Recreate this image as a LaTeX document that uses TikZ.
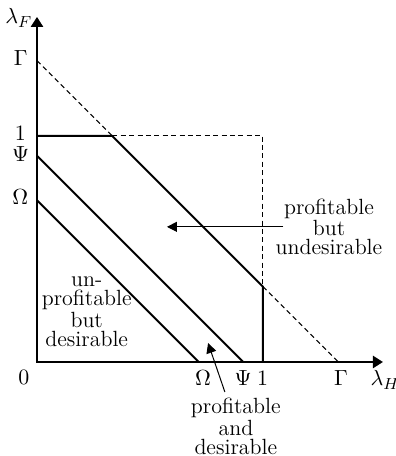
\documentclass[tikz,border=0pt]{standalone}
\usepackage{amsmath,amssymb}
\usepackage{xcolor}
\usepackage{tikz}
\usetikzlibrary{positioning,arrows.meta}
\tikzset{
  axis/.style={draw=black, line width=1.15pt, {Triangle[length=5pt,width=6pt]}-{Triangle[length=5pt,width=6pt]}},
  bound/.style={draw=black, line width=1pt, line join=miter},
  guide/.style={draw=black, line width=0.5pt, dash pattern=on 2.5pt off 1.7pt},
  pointer/.style={draw=black, line width=0.5pt, -{Triangle[length=5pt,width=5pt]}},
  region/.style={align=center, inner sep=0pt, font=\fontsize{11}{9.4}\selectfont},
  ticklbl/.style={inner sep=0pt, font=\fontsize{11}{13}\selectfont},
  regionplot/.style={x=113pt, y=113pt}
}

\begin{document}
\begin{tikzpicture}[regionplot]
        \useasboundingbox (-0.1637,-0.416) rectangle (1.5885,1.6018);
        % axis points
        \coordinate (O) at (0,0);
        \coordinate (xend) at (1.531,0);
        \coordinate (yend) at (0,1.527);
        \coordinate (yG) at (0,4/3); \coordinate (y1) at (0,1);
        \coordinate (yPsi) at (0,0.913); \coordinate (yOm) at (0,0.716);
        \coordinate (xG) at (4/3,0); \coordinate (x1) at (1,0);
        \coordinate (xPsi) at (0.913,0); \coordinate (xOm) at (0.716,0);
        \coordinate (c1) at (1/3,1); \coordinate (c2) at (1,1/3);
        \coordinate (c11) at (1,1);
        % guides
        \draw[guide] (yG)--(c1); \draw[guide] (c2)--(xG);
        \draw[guide] (c1)--(c11)--(c2);
        % boundaries
        \draw[bound] (yOm)--(xOm);
        \draw[bound] (yPsi)--(xPsi);
        \draw[bound] (y1)--(c1)--(c2)--(x1);
        \draw[axis] (yend)--(O)--(xend);
        % labels
        \node[ticklbl] (lF) at (-0.08,1.523) {$\lambda_F$};
        \node[ticklbl] (lH) at (1.54,-0.08) {$\lambda_H$};
        \node[ticklbl] (tG) at (-0.072,1.343) {$\Gamma$};
        \node[ticklbl] (t1) at (-0.074,1.01) {$1$};
        \node[ticklbl] (tPsi) at (-0.072,0.92) {$\Psi$};
        \node[ticklbl] (tOm) at (-0.074,0.728) {$\Omega$};
        \node[ticklbl] (t0) at (-0.058,-0.069) {$0$};
        \node[ticklbl] (sOm) at (0.735,-0.071) {$\Omega$};
        \node[ticklbl] (sPsi) at (0.912,-0.071) {$\Psi$};
        \node[ticklbl] (s1) at (0.998,-0.071) {$1$};
        \node[ticklbl] (sG) at (1.345,-0.071) {$\Gamma$};
        % regions
        \node[region] (pbu) at (1.292,0.598) {profitable\\but\\undesirable};
        \node[region] (upd) at (0.22,0.222) {un-\\profitable\\but\\desirable};
        \node[region] (pad) at (0.88,-0.285) {profitable\\and\\desirable};
        \coordinate (tipU) at (0.575,0.6);
        \coordinate (tipD) at (0.757,0.084);
        \draw[pointer] ([xshift=4pt]pbu.west) -- (tipU |- pbu.west);
        \draw[pointer] ([xshift=-5.5pt,yshift=3pt]pad.north) -- (tipD);
      \end{tikzpicture}
\end{document}
